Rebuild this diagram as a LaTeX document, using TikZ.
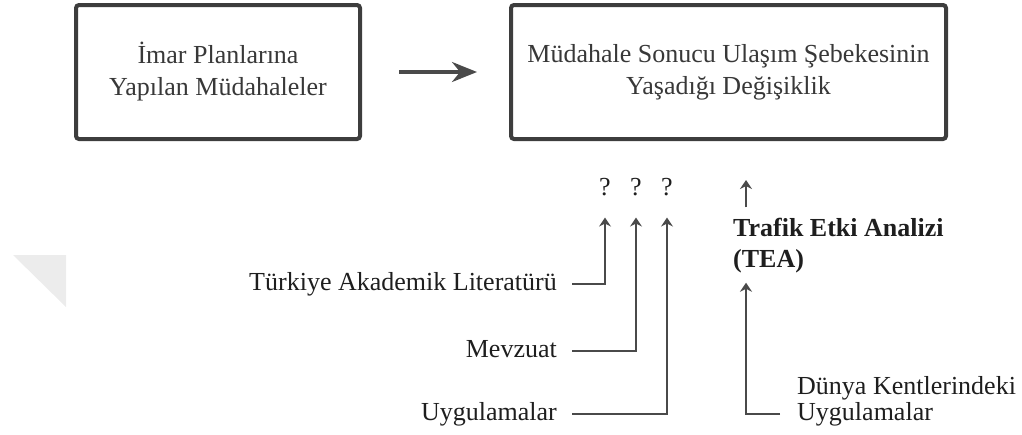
\documentclass[tikz,border=0pt]{standalone}
\usepackage{fontspec}
\setmainfont{Liberation Serif}
\usetikzlibrary{arrows.meta}
\definecolor{edgegray}{HTML}{3D3D3D}
\definecolor{wiregray}{HTML}{4A4A4A}
\definecolor{inkgray}{HTML}{1E1E1E}
\definecolor{boxink}{HTML}{383838}
\definecolor{cornergray}{HTML}{ECECEC}
\tikzset{
  stagebox/.style={draw=edgegray, line width=4pt, rounded corners=3pt, fill=white,
    align=center, text=boxink, inner sep=0pt,
    font=\fontsize{26}{32}\selectfont},
  srctext/.style={inner sep=0pt, text=inkgray, font=\fontsize{26}{26}\selectfont},
  bigarrow/.style={draw=wiregray, line width=3.2pt, -{Stealth[length=25pt,width=20pt,inset=8pt]}},
  smallarrow/.style={draw=wiregray, line width=2.8pt, -{Stealth[length=9pt,width=12pt,inset=3pt]}},
}
\begin{document}
\begin{tikzpicture}[x=1pt,y=-1pt]
\useasboundingbox (0,0) rectangle (1022,434);
% faint corner mark on the left margin
\fill[cornergray] (13,255) -- (66,255) -- (66,307) -- cycle;

% the two stages
\node[stagebox, minimum width=284pt, minimum height=134pt] (plan) at (218,72)
  {İmar Planlarına\\Yapılan Müdahaleler};
\node[stagebox, minimum width=435pt, minimum height=134pt] (net) at (728.5,72)
  {Müdahale Sonucu Ulaşım Şebekesinin\\Yaşadığı Değişiklik};
\draw[bigarrow, shorten <=37pt, shorten >=32pt] (plan.east) -- (net.west);

% open questions
\node[srctext, anchor=base] (q1) at (605,195) {?};
\node[srctext, anchor=base] (q2) at (636,195) {?};
\node[srctext, anchor=base] (q3) at (667,195) {?};

% national sources
\node[srctext, anchor=base east] (lit) at (557,290) {Türkiye Akademik Literatürü};
\node[srctext, anchor=base east] (law) at (557,357) {Mevzuat};
\node[srctext, anchor=base east] (app) at (557,420) {Uygulamalar};
\draw[smallarrow, shorten <=15pt, shorten >=22pt] ([yshift=6pt]lit.base east) -| (q1.south);
\draw[smallarrow, shorten <=15pt, shorten >=22pt] ([yshift=6pt]law.base east) -| (q2.south);
\draw[smallarrow, shorten <=15pt, shorten >=22pt] ([yshift=6pt]app.base east) -| (q3.south);

% traffic impact analysis (base = last line)
\node[srctext, anchor=base west, align=left, font=\fontsize{26}{31}\selectfont\bfseries] (tea) at (733,267)
  {Trafik Etki Analizi\\(TEA)};
\draw[smallarrow, shorten <=10pt, shorten >=39pt]
  ([xshift=13pt]tea.north west) -- ([xshift=13pt]tea.north west |- net.south);

% international practice (base = last line)
\node[srctext, anchor=base west, align=left] (world) at (797,420)
  {Dünya Kentlerindeki\\Uygulamalar};
\draw[smallarrow, shorten <=17pt, shorten >=10pt]
  ([yshift=6pt]world.base west) -| ([xshift=13pt]tea.south west);
\end{tikzpicture}
\end{document}
